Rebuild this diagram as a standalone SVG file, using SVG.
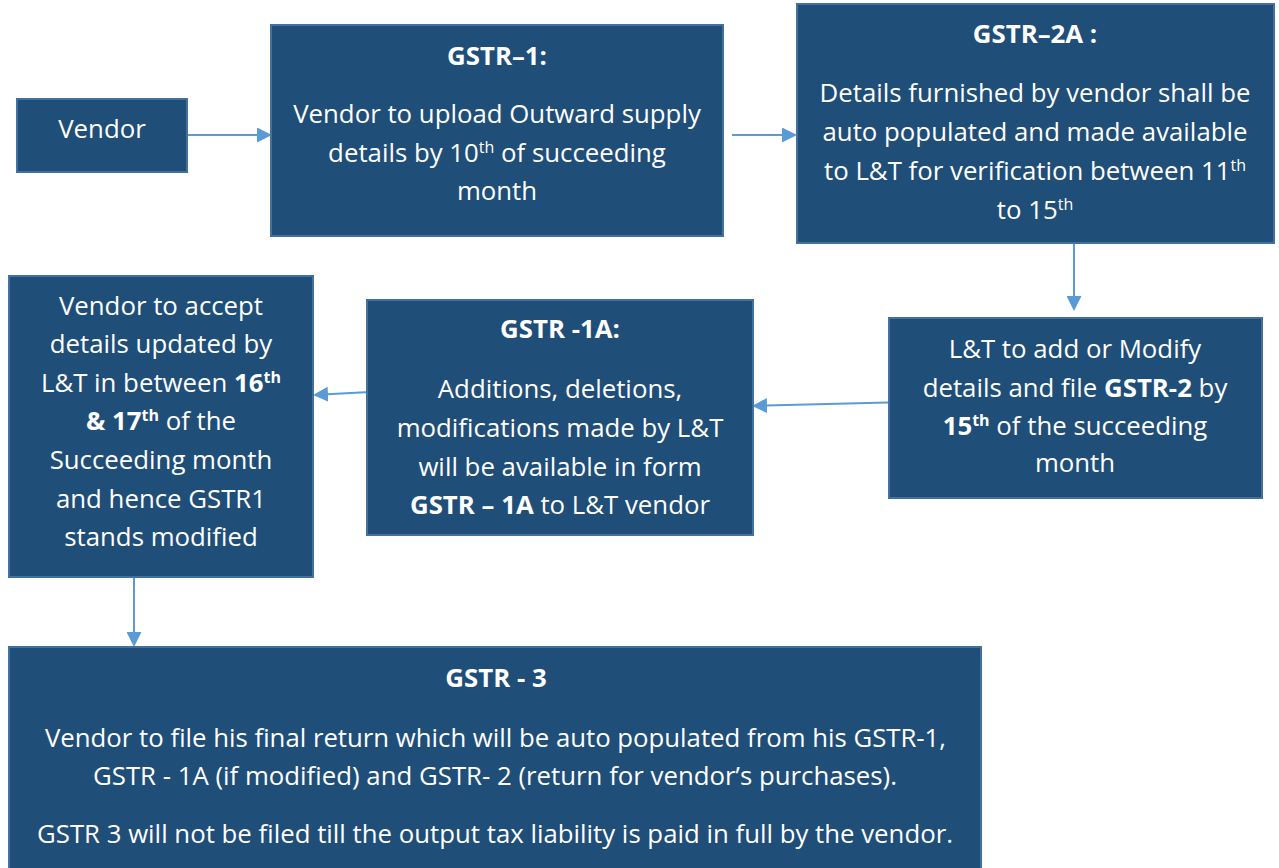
<svg xmlns="http://www.w3.org/2000/svg" width="1279" height="868" viewBox="0 0 1279 868">
<defs>
<style>
.box{fill:#1F4E79;stroke:#41719C;stroke-width:2}
.t{font-family:"Open Sans","Noto Sans","Liberation Sans",sans-serif;font-size:25.8px;fill:#FFFFFF;text-anchor:middle}
.b{font-weight:bold}
.sup{font-size:16px}
.c{fill:none;stroke:#5B9BD5;stroke-width:2}
</style>
<marker id="ah" viewBox="0 0 15 15" refX="1" refY="7.5" markerWidth="15" markerHeight="15" markerUnits="userSpaceOnUse" orient="auto">
<path d="M0,0 L15,7.5 L0,15 z" fill="#5B9BD5"/>
</marker>
</defs>
<rect width="1279" height="868" fill="#FFFFFF"/>

<g id="connectors">
<line class="c" x1="187" y1="135" x2="258" y2="135" marker-end="url(#ah)"/>
<line class="c" x1="732" y1="135" x2="783" y2="135" marker-end="url(#ah)"/>
<line class="c" x1="1074" y1="243" x2="1074" y2="297" marker-end="url(#ah)"/>
<line class="c" x1="908" y1="402" x2="766" y2="405.6" marker-end="url(#ah)"/>
<line class="c" x1="370" y1="392" x2="327" y2="394.3" marker-end="url(#ah)"/>
<line class="c" x1="134" y1="577" x2="134" y2="633" marker-end="url(#ah)"/>
</g>

<g id="vendor">
<rect class="box" x="17" y="99" width="170" height="73"/>
<text class="t" x="102" y="138">Vendor</text>
</g>

<g id="gstr1">
<rect class="box" x="271" y="25" width="452" height="211"/>
<text class="t b" x="497" y="65">GSTR–1:</text>
<text class="t" x="497" y="123">Vendor to upload Outward supply</text>
<text class="t" x="497" y="162">details by 10<tspan class="sup" dy="-9">th</tspan><tspan dy="9"> of succeeding</tspan></text>
<text class="t" x="497" y="200">month</text>
</g>

<g id="gstr2a">
<rect class="box" x="797" y="4" width="477" height="239"/>
<text class="t b" x="1035" y="43">GSTR–2A :</text>
<text class="t" x="1035" y="102">Details furnished by vendor shall be</text>
<text class="t" x="1035" y="141">auto populated and made available</text>
<text class="t" x="1035" y="180">to L&amp;T for verification between 11<tspan class="sup" dy="-9">th</tspan></text>
<text class="t" x="1035" y="219">to 15<tspan class="sup" dy="-9">th</tspan></text>
</g>

<g id="lt-gstr2">
<rect class="box" x="889" y="318" width="373" height="180"/>
<text class="t" x="1075" y="358">L&amp;T to add or Modify</text>
<text class="t" x="1075" y="397">details and file <tspan class="b">GSTR-2</tspan> by</text>
<text class="t" x="1075" y="435"><tspan class="b">15</tspan><tspan class="sup b" dy="-9">th</tspan><tspan dy="9"> of the succeeding</tspan></text>
<text class="t" x="1075" y="472">month</text>
</g>

<g id="gstr1a">
<rect class="box" x="367" y="300" width="386" height="235"/>
<text class="t b" x="560" y="338">GSTR -1A:</text>
<text class="t" x="560" y="398">Additions, deletions,</text>
<text class="t" x="560" y="437">modifications made by L&amp;T</text>
<text class="t" x="560" y="476">will be available in form</text>
<text class="t" x="560" y="514"><tspan class="b">GSTR – 1A</tspan> to L&amp;T vendor</text>
</g>

<g id="vendor-accept">
<rect class="box" x="9" y="276" width="304" height="301"/>
<text class="t" x="161" y="315">Vendor to accept</text>
<text class="t" x="161" y="353">details updated by</text>
<text class="t" x="161" y="392">L&amp;T in between <tspan class="b">16</tspan><tspan class="sup b" dy="-9">th</tspan></text>
<text class="t" x="161" y="430"><tspan class="b">&amp; 17</tspan><tspan class="sup b" dy="-9">th</tspan><tspan dy="9"> of the</tspan></text>
<text class="t" x="161" y="469">Succeeding month</text>
<text class="t" x="161" y="508">and hence GSTR1</text>
<text class="t" x="161" y="546">stands modified</text>
</g>

<g id="gstr3">
<rect class="box" x="9" y="647" width="972" height="240"/>
<text class="t b" x="496" y="687">GSTR - 3</text>
<text class="t" x="495.5" y="747" textLength="901" lengthAdjust="spacingAndGlyphs">Vendor to file his final return which will be auto populated from his GSTR-1,</text>
<text class="t" x="495" y="785" textLength="804" lengthAdjust="spacingAndGlyphs">GSTR - 1A (if modified) and GSTR- 2 (return for vendor’s purchases).</text>
<text class="t" x="495" y="843" textLength="916" lengthAdjust="spacingAndGlyphs">GSTR 3 will not be filed till the output tax liability is paid in full by the vendor.</text>
</g>
</svg>
